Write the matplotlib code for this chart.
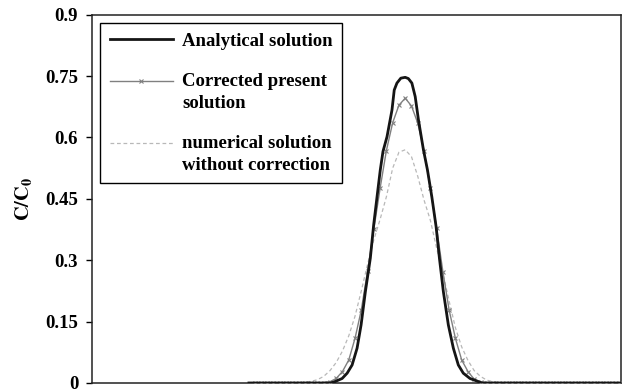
import numpy as np
import matplotlib
matplotlib.use('Agg')
import matplotlib.pyplot as plt

plt.rcParams['font.family'] = ['Liberation Serif', 'DejaVu Serif']
plt.rcParams['font.weight'] = 'bold'
plt.rcParams['mathtext.fontset'] = 'stix'

# analytical solution (fine resolution)
x_an = [-0.9, 12.1, 12.76, 13.95, 14.75, 15.54, 16.33, 16.97, 17.65, 18.44, 18.97,
        19.51, 20.03, 20.46, 21.1, 21.89, 22.25, 22.68, 23.3, 24.0, 24.5, 25.06,
        25.59, 26.11, 26.9, 27.54, 28.24, 28.92, 29.45, 30.08, 30.87, 31.67, 32.46,
        33.25, 34.32, 35.38, 36.2, 58.4]
y_an = [0, 0, 0.003, 0.011, 0.024, 0.044, 0.085, 0.142, 0.223, 0.305, 0.386,
        0.455, 0.521, 0.566, 0.602, 0.667, 0.716, 0.733, 0.745, 0.747, 0.744, 0.733,
        0.700, 0.643, 0.570, 0.521, 0.455, 0.382, 0.305, 0.223, 0.142, 0.085, 0.044,
        0.024, 0.011, 0.005, 0, 0]

# grid nodes 0..58
x_grid = list(range(59))
y_corr = [0] * 11 + [0.001, 0.003, 0.011, 0.028, 0.056, 0.109, 0.178, 0.274, 0.376,
                     0.476, 0.568, 0.636, 0.679, 0.696, 0.677, 0.635, 0.568, 0.476,
                     0.379, 0.272, 0.178, 0.109, 0.056, 0.028, 0.009, 0.003, 0.001] + [0] * 21
y_num = [0] * 8 + [0.002, 0.004, 0.008, 0.016, 0.030, 0.050, 0.078, 0.115, 0.163,
                   0.225, 0.290, 0.350, 0.400, 0.455, 0.525, 0.564, 0.570, 0.553,
                   0.505, 0.447, 0.398, 0.330, 0.268, 0.200, 0.135, 0.088, 0.055,
                   0.030, 0.016, 0.007, 0.003, 0.001] + [0] * 19

yticks = [0, 0.15, 0.3, 0.45, 0.6, 0.75, 0.9]
ytick_labels = ['0', '0.15', '0.3', '0.45', '0.6', '0.75', '0.9']

fig = plt.figure(figsize=(6.23, 3.92), dpi=100)
ax = fig.add_axes([0.1477, 0.023, 0.8493, 0.9394])

ax.plot(x_grid, y_num, color='#b8b8b8', lw=0.9, dashes=(3, 2.2), zorder=2,
        label='numerical solution\nwithout correction')
ax.plot(x_grid, y_corr, color='#808080', lw=1.0, marker='x', markersize=3,
        markeredgewidth=0.8, zorder=3, label='Corrected present\nsolution')
ax.plot(x_an, y_an, color='#151515', lw=2.0, zorder=4, label='Analytical solution')

ax.set_xlim(-25.9, 58.4)
ax.set_ylim(0, 0.9)
ax.set_xticks([])
ax.set_yticks(yticks)
ax.set_yticklabels(ytick_labels, fontsize=13.5, fontweight='bold')
ax.tick_params(axis='y', direction='out', length=4, width=1, pad=6)
for s in ax.spines.values():
    s.set_linewidth(1.1)
    s.set_color('#222222')

ax.set_ylabel(r'$\mathbf{C/C_0}$', fontsize=14.5, labelpad=8)

h, l = ax.get_legend_handles_labels()
order = [2, 1, 0]
leg = ax.legend([h[i] for i in order], [l[i] for i in order], loc='upper left',
                fontsize=13.5, frameon=True, fancybox=False, framealpha=1,
                edgecolor='black', handlelength=3.35, handletextpad=0.5,
                labelspacing=1.25, borderpad=0.5, borderaxespad=0.45, numpoints=1)
leg.get_frame().set_linewidth(1.0)
for t in leg.get_texts():
    t.set_fontweight('bold')
    t.set_linespacing(1.35)
# put handle level with first line of two-line labels
for hd in leg.legend_handles[1:]:
    hd.set_ydata(np.asarray(hd.get_ydata()) + 8.5)

fig.savefig('out.png', dpi=100)
